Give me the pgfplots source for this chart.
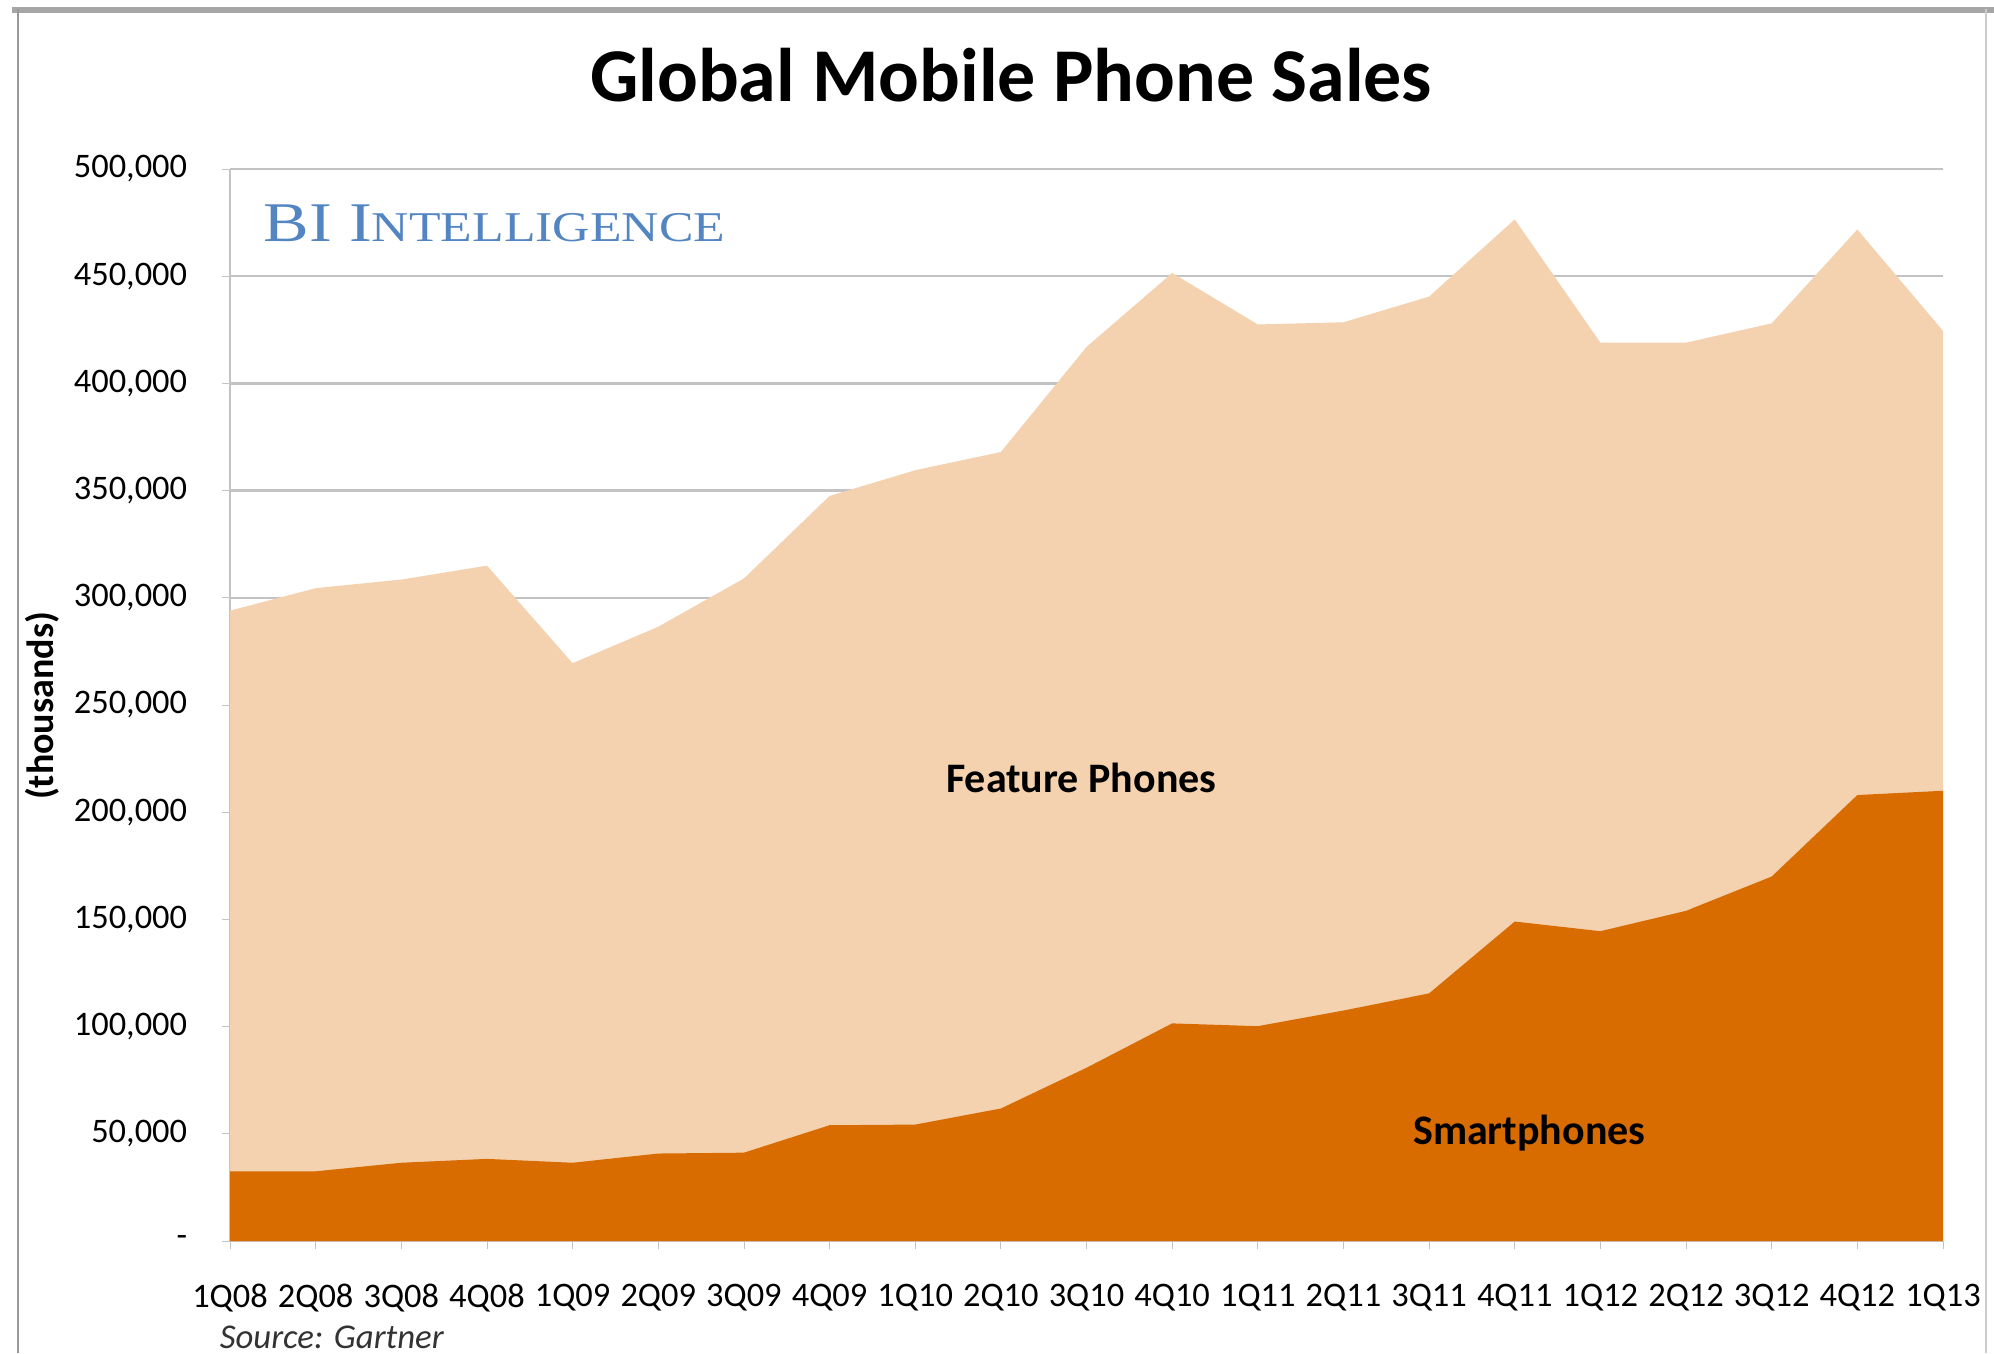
\documentclass[border=0pt]{standalone}
\usepackage{pgfplots}
\pgfplotsset{compat=1.18}
\usepackage{fontspec}
\usepackage{graphicx}
\setmainfont{Carlito}
\newfontfamily\bifont{Liberation Serif}
\definecolor{smart}{RGB}{217,108,0}
\definecolor{feat}{RGB}{244,210,176}
\definecolor{gridc}{RGB}{195,195,195}
\definecolor{bib}{RGB}{84,133,195}
\begin{document}
\begin{tikzpicture}
\useasboundingbox (0pt,0pt) rectangle (498.5pt,338.25pt);
\fill[white] (0pt,0pt) rectangle (498.5pt,338.25pt);
\draw[black!35, line width=1.5pt] (3pt,335.75pt) -- (498.5pt,335.75pt);
\draw[black!40, line width=0.5pt] (4.5pt,0pt) -- (4.5pt,336pt);
\draw[black!20, line width=0.5pt] (496.5pt,0pt) -- (496.5pt,336pt);
\node[anchor=base, inner sep=0pt, font=\fontsize{19}{22}\selectfont\bfseries] at (252.75pt,312.75pt) {Global Mobile Phone Sales};
\begin{axis}[
  at={(57.5pt,28pt)}, anchor=south west,
  scale only axis, width=428.25pt, height=268pt,
  xmin=0, xmax=20, ymin=0, ymax=500000,
  axis x line*=bottom, axis y line*=left,
  axis line style={gridc},
  ymajorgrids, major grid style={gridc, line width=0.6pt},
  xtick={0,...,20},
  xticklabels={1Q08,2Q08,3Q08,4Q08,1Q09,2Q09,3Q09,4Q09,1Q10,2Q10,3Q10,4Q10,1Q11,2Q11,3Q11,4Q11,1Q12,2Q12,3Q12,4Q12,1Q13},
  ytick={0,50000,100000,150000,200000,250000,300000,350000,400000,450000,500000},
  yticklabels={{-\hspace{6pt}},{50,000},{100,000},{150,000},{200,000},{250,000},{300,000},{350,000},{400,000},{450,000},{500,000}},
  scaled y ticks=false,
  tick align=outside, major tick length=2pt, tick style={gridc},
  ticklabel style={font=\fontsize{8.6}{10}\selectfont, text=black},
  yticklabel style={xshift=-5.2pt},
  xticklabel style={yshift=-5.2pt},
  clip=false,
]
\addplot[draw=none, fill=feat] coordinates {
(0,294000) (1,304500) (2,308500) (3,315000) (4,269500) (5,286500) (6,309000)
(7,347500) (8,359500) (9,368000) (10,417000) (11,451500) (12,427500) (13,428500)
(14,440500) (15,476500) (16,419000) (17,419000) (18,428000) (19,471800) (20,424500)
} \closedcycle;
\addplot[draw=none, fill=smart] coordinates {
(0,32500) (1,32500) (2,36500) (3,38300) (4,36500) (5,40800) (6,41200)
(7,54000) (8,54300) (9,61800) (10,80800) (11,101500) (12,100200) (13,107500)
(14,115500) (15,149000) (16,144500) (17,154000) (18,170000) (19,208000) (20,210000)
} \closedcycle;
\node[font=\fontsize{10.5}{12}\selectfont\bfseries] at (axis cs:9.94,215800) {Feature Phones};
\node[font=\fontsize{10.5}{12}\selectfont\bfseries] at (axis cs:15.17,50300) {Smartphones};
\end{axis}
\node[anchor=base west, inner sep=0pt, text=bib] at (65.75pt,277.75pt) {\scalebox{1.22}[1]{\bifont\fontsize{14}{16}\selectfont BI I\fontsize{10.6}{12}\selectfont NTELLIGENCE}};
\node[rotate=90, font=\fontsize{9.5}{11}\selectfont\bfseries] at (10.5pt,161.75pt) {(thousands)};
\node[anchor=base west, inner sep=0pt, font=\fontsize{8.7}{10}\selectfont\itshape, text=black!80] at (54.75pt,1.2pt) {Source: Gartner};
\end{tikzpicture}
\end{document}
